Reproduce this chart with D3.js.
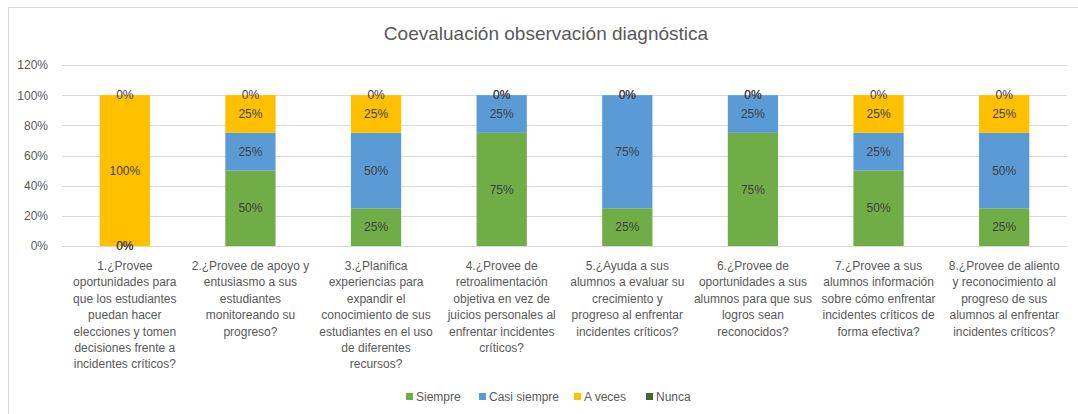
<!DOCTYPE html>
<html>
<head>
<meta charset="utf-8">
<script src="https://cdn.jsdelivr.net/npm/d3@7"></script>
<style>
  body { margin: 0; background: #fff; }
  svg { font-family: "Liberation Sans", Arial, sans-serif; }
</style>
</head>
<body>
<svg id="chart"></svg>
<script>
// categories (wrapped tick labels as shown)
var categories = ["q1", "q2", "q3", "q4", "q5", "q6", "q7", "q8"];
var tickLabels = [
    ["1.¿Provee", "oportunidades para", "que los estudiantes", "puedan hacer", "elecciones y tomen", "decisiones frente a", "incidentes críticos?"],
    ["2.¿Provee de apoyo y", "entusiasmo a sus", "estudiantes", "monitoreando su", "progreso?"],
    ["3.¿Planifica", "experiencias para", "expandir el", "conocimiento de sus", "estudiantes en el uso", "de diferentes", "recursos?"],
    ["4.¿Provee de", "retroalimentación", "objetiva en vez de", "juicios personales al", "enfrentar incidentes", "críticos?"],
    ["5.¿Ayuda a sus", "alumnos a evaluar su", "crecimiento y", "progreso al enfrentar", "incidentes críticos?"],
    ["6.¿Provee de", "oportunidades a sus", "alumnos para que sus", "logros sean", "reconocidos?"],
    ["7.¿Provee a sus", "alumnos información", "sobre cómo enfrentar", "incidentes críticos de", "forma efectiva?"],
    ["8.¿Provee de aliento", "y reconocimiento al", "progreso de sus", "alumnos al enfrentar", "incidentes críticos?"]
];

var seriesNames = ["Siempre", "Casi siempre", "A veces", "Nunca"];
var siempre     = [0,    0.50, 0.25, 0.75, 0.25, 0.75, 0.50, 0.25];
var casiSiempre = [0,    0.25, 0.50, 0.25, 0.75, 0.25, 0.25, 0.50];
var aVeces      = [1.00, 0.25, 0.25, 0,    0,    0,    0.25, 0.25];
var nunca       = [0,    0,    0,    0,    0,    0,    0,    0];
var yTicks = [0, 0.2, 0.4, 0.6, 0.8, 1.0, 1.2];

var colors = ["#70AD47", "#5B9BD5", "#FFC000", "#43682B"];

var W = 1078, H = 414;
var margin = {top: 65, right: 11, bottom: 168, left: 62},
    width = W - margin.left - margin.right,
    height = H - margin.top - margin.bottom;

var rows = categories.map(function(c, i) {
    return {cat: c, "Siempre": siempre[i], "Casi siempre": casiSiempre[i], "A veces": aVeces[i], "Nunca": nunca[i]};
});
var stacked = d3.stack().keys(seriesNames)(rows);

var svgRoot = d3.select("#chart").attr("width", W).attr("height", H);

// chart area border
svgRoot.append("rect")
    .attr("x", 8.5).attr("y", 7.5)
    .attr("width", W + 10).attr("height", H + 10)
    .attr("fill", "#fff")
    .attr("stroke", "#d9d9d9");

svgRoot.append("text")
    .attr("x", 546).attr("y", 40)
    .attr("text-anchor", "middle")
    .attr("fill", "#595959")
    .style("font-size", "19px")
    .text("Coevaluación observación diagnóstica");

var svg = svgRoot.append("g")
    .attr("transform", "translate(" + margin.left + "," + margin.top + ")");

var x = d3.scaleBand().domain(categories).range([0, width]).paddingInner(0.6).paddingOuter(0.3);
var y = d3.scaleLinear().domain([0, 1.2]).range([height, 0]);

// gridlines
svg.append("g")
    .selectAll("line")
    .data(yTicks)
    .join("line")
    .attr("x1", 0).attr("x2", width)
    .attr("y1", function(d) { return Math.round(y(d)) + 0.5; })
    .attr("y2", function(d) { return Math.round(y(d)) + 0.5; })
    .attr("stroke", "#d9d9d9");

// y axis labels
var yAxis = svg.append("g")
    .call(d3.axisLeft(y).tickValues(yTicks).tickFormat(d3.format(".0%")).tickSize(0).tickPadding(14));
yAxis.select(".domain").remove();
yAxis.selectAll("text").attr("fill", "#595959").style("font-size", "12px");

// bars
var layers = svg.selectAll(".layer")
    .data(stacked)
    .join("g")
    .attr("class", "layer")
    .attr("fill", function(d, i) { return colors[i]; });

layers.selectAll("rect")
    .data(function(d) { return d; })
    .join("rect")
    .attr("x", function(d) { return x(d.data.cat); })
    .attr("width", x.bandwidth())
    .attr("y", function(d) { return y(d[1]); })
    .attr("height", function(d) { return y(d[0]) - y(d[1]); });

// data labels
var fmt = d3.format(".0%");
stacked.forEach(function(layer) {
    svg.append("g")
        .selectAll("text")
        .data(layer)
        .join("text")
        .attr("x", function(d) { return x(d.data.cat) + x.bandwidth() / 2; })
        .attr("y", function(d) { return y((d[0] + d[1]) / 2); })
        .attr("dy", "0.35em")
        .attr("text-anchor", "middle")
        .attr("fill", "#404040")
        .style("font-size", "12px")
        .text(function(d) { return fmt(d[1] - d[0]); });
});

// category labels
var xg = svg.append("g").attr("transform", "translate(0," + height + ")");
categories.forEach(function(c, i) {
    var t = xg.append("text")
        .attr("x", x(c) + x.bandwidth() / 2)
        .attr("y", 24)
        .attr("text-anchor", "middle")
        .attr("fill", "#595959")
        .style("font-size", "12px");
    tickLabels[i].forEach(function(line, j) {
        t.append("tspan")
            .attr("x", x(c) + x.bandwidth() / 2)
            .attr("y", 24 + j * 16.4)
            .text(line);
    });
});

// legend
var legendX = [406, 479, 574, 646];
var legend = svgRoot.append("g");
seriesNames.forEach(function(name, i) {
    legend.append("rect")
        .attr("x", legendX[i]).attr("y", 393)
        .attr("width", 7).attr("height", 7)
        .attr("fill", colors[i]);
    legend.append("text")
        .attr("x", legendX[i] + 10).attr("y", 401)
        .attr("fill", "#595959")
        .style("font-size", "12px")
        .text(name);
});
</script>
</body>
</html>
